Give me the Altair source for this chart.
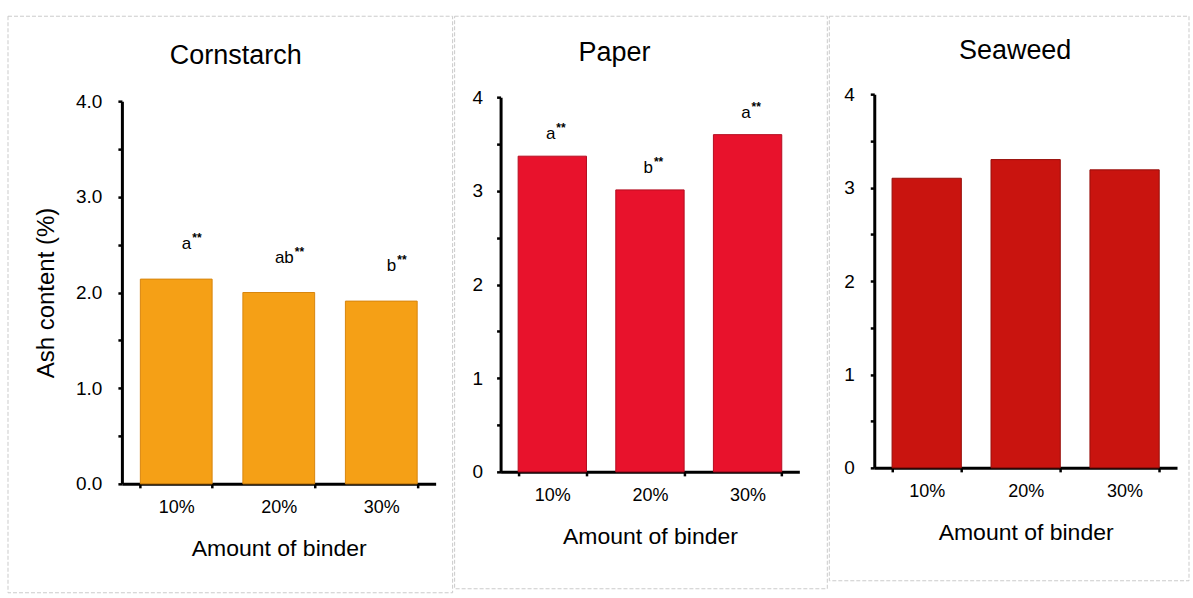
import altair as alt
import pandas as pd

# Amount of binder on the x axis
binder = ["10%", "20%", "30%"]

# Ash content (%) for each binder type
cornstarch_ash = [2.14, 2.00, 1.91]
paper_ash = [3.37, 3.01, 3.60]
seaweed_ash = [3.10, 3.30, 3.19]

# Significance groups printed above the bars
cornstarch_groups = ["a", "ab", "b"]
paper_groups = ["a", "b", "a"]
stars = "**"

# y-axis ticks every 0.5, labels only on whole numbers
y_ticks = [0, 0.5, 1, 1.5, 2, 2.5, 3, 3.5, 4]

FONT = "Liberation Sans"


def panel(name, values, groups, color, edge, width, height, y_range, frame, title_pos,
          label_fmt, y_title, label_dx=0, label_dy=-25, y_label_pad=14):
    df = pd.DataFrame({"binder": binder, "ash": values})

    x = alt.X(
        "binder:N",
        sort=binder,
        scale=alt.Scale(paddingInner=0.3, paddingOuter=0.18),
        axis=alt.Axis(
            title="Amount of binder",
            labelAngle=0,
            tickBand="extent",
            labelPadding=11,
            titlePadding=21,
        ),
    )
    y_axis = dict(
        values=y_ticks,
        labelExpr=f"datum.value % 1 == 0 ? format(datum.value, '{label_fmt}') : ''",
        labelOverlap=False,
        labelPadding=y_label_pad,
        titlePadding=17,
    )
    y_axis["title"] = y_title if y_title else None
    y = alt.Y(
        "ash:Q",
        scale=alt.Scale(domain=[0, 4], nice=False, range=y_range),
        axis=alt.Axis(**y_axis),
    )

    bars = alt.Chart(df).mark_bar(color=color, stroke=edge, strokeWidth=1).encode(x=x, y=y)

    layers = []

    # light border round the whole panel
    fx1, fx2, fy1, fy2 = frame
    border = alt.Chart(pd.DataFrame({"panel": [name]})).mark_rect(
        fillOpacity=0, stroke="#cbcbcb", strokeWidth=1, strokeDash=[4, 2]
    ).encode(
        x=alt.value(fx1), x2=alt.value(fx2), y=alt.value(fy1), y2=alt.value(fy2)
    )
    layers.append(border)
    layers.append(bars)

    if groups:
        gdf = pd.DataFrame({"binder": binder, "ash": values, "group": groups,
                            "stars": [stars] * len(groups)})
        letters = alt.Chart(gdf).mark_text(
            align="right", baseline="middle", font=FONT, fontSize=17,
            dx=label_dx, dy=label_dy, color="black",
        ).encode(x=alt.X("binder:N", sort=binder), y="ash:Q", text="group:N")
        sup = alt.Chart(gdf).mark_text(
            align="left", baseline="middle", font=FONT, fontSize=12, fontWeight="bold",
            dx=label_dx + 1, dy=label_dy - 6, color="black",
        ).encode(x=alt.X("binder:N", sort=binder), y="ash:Q", text="stars:N")
        layers += [letters, sup]

    tx, ty = title_pos
    title = alt.Chart(pd.DataFrame({"panel": [name]})).mark_text(
        font=FONT, fontSize=27, color="black", baseline="middle", align="center"
    ).encode(x=alt.value(tx), y=alt.value(ty), text="panel:N")
    layers.append(title)

    return alt.layer(*layers).properties(width=width, height=height)


p1 = panel("Cornstarch", cornstarch_ash, cornstarch_groups, "#F5A016", "#D8860E",
           314, 383, [383, 0], (-114, 331, -85, 492), (114, -45), ".1f", "Ash content (%)",
           label_dx=15, label_dy=-35, y_label_pad=16)
p2 = panel("Paper", paper_ash, paper_groups, "#E8122C", "#B50D20",
           299, 371, [371, -4], (-46, 327, -85, 488), (114, -48), "d", None,
           label_dx=3, label_dy=-22)
p3 = panel("Seaweed", seaweed_ash, None, "#C9140F", "#970E0A",
           303, 367, [367, -7], (-45, 315, -85, 480), (141, -50), "d", None, y_label_pad=16)

chart = alt.hconcat(p1, p2, p3, spacing=0).properties(
    padding={"left": 7, "top": 15, "right": 3, "bottom": 3},
    background="white",
).configure_view(
    stroke=None
).configure_axis(
    grid=False,
    domainColor="black",
    domainWidth=3,
    tickColor="black",
    tickWidth=2.5,
    tickSize=4,
    labelFont=FONT,
    labelFontSize=18,
    labelColor="black",
    titleFont=FONT,
    titleFontSize=23,
    titleFontWeight="normal",
    titleColor="black",
).configure_axisY(
    labelFontSize=19,
    titleFontSize=24,
)

chart.save("out.html", embed_options={"renderer": "svg", "actions": False})
